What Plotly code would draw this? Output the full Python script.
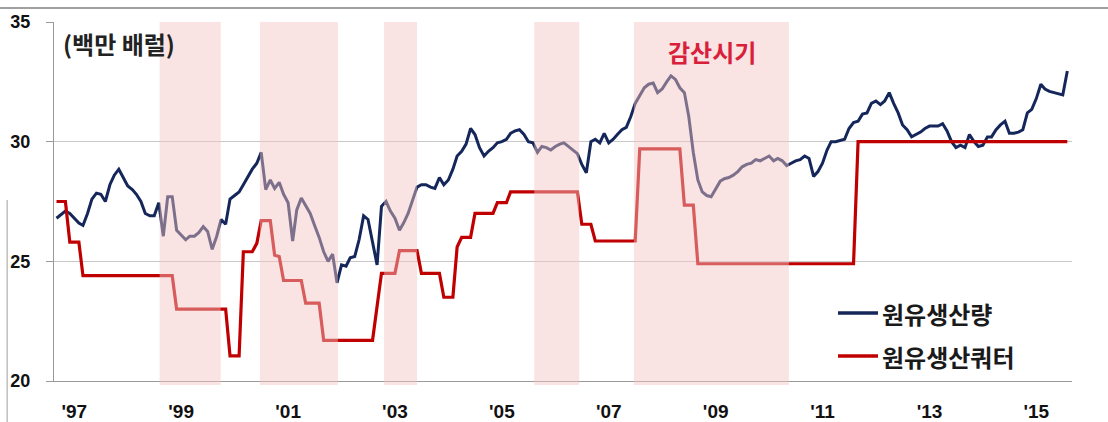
import pandas as pd
import plotly.graph_objects as go

# OPEC crude oil production (million barrels per day), monthly from Sep 1996
production = [
    26.8, 26.95, 27.1, 27.0, 26.8, 26.6, 26.5, 27.0, 27.6, 27.85, 27.8, 27.5,
    28.2, 28.6, 28.85, 28.5, 28.15, 28.0, 27.8, 27.5, 27.0, 26.9, 26.9, 27.45,
    26.05, 27.7, 27.7, 26.3, 26.1, 25.9, 26.05, 26.05, 26.2, 26.45, 26.25, 25.5,
    26.05, 26.75, 26.55, 27.6, 27.75, 27.9, 28.2, 28.55, 28.85, 29.1, 29.55, 28.0,
    28.4, 28.05, 28.3, 27.8, 27.45, 25.85, 27.15, 27.65, 27.35, 27.0, 26.5, 26.0,
    25.4, 25.0, 25.3, 24.1, 24.85, 24.8, 25.15, 25.2, 25.9, 26.9, 26.75, 25.8,
    24.85, 27.3, 27.5, 27.1, 26.8, 26.3, 26.6, 27.0, 27.5, 28.1, 28.2, 28.2,
    28.1, 28.05, 28.5, 28.2, 28.4, 28.85, 29.4, 29.6, 29.9, 30.55, 30.3, 29.75,
    29.4, 29.6, 29.75, 29.95, 30.0, 30.1, 30.35, 30.45, 30.5, 30.3, 30.0, 29.95,
    29.55, 29.8, 29.75, 29.65, 29.8, 29.9, 29.95, 29.8, 29.65, 29.5, 29.05, 28.7,
    30.0, 30.1, 29.95, 30.35, 29.95, 30.1, 30.3, 30.5, 30.6, 31.05, 31.6, 31.9,
    32.25, 32.4, 32.45, 32.05, 32.2, 32.5, 32.75, 32.6, 32.25, 32.05, 31.05, 29.55,
    28.4, 27.9, 27.75, 27.7, 28.0, 28.35, 28.45, 28.5, 28.6, 28.75, 28.95, 29.05,
    29.1, 29.25, 29.2, 29.3, 29.4, 29.2, 29.3, 29.2, 29.0, 29.1, 29.2, 29.25,
    29.4, 29.3, 28.55, 28.75, 29.1, 29.65, 30.0, 30.0, 30.05, 30.1, 30.55, 30.8,
    30.85, 31.15, 31.2, 31.6, 31.7, 31.55, 31.7, 32.05, 31.6, 31.2, 30.7, 30.5,
    30.2, 30.3, 30.4, 30.55, 30.65, 30.65, 30.65, 30.75, 30.45, 30.0, 29.75, 29.85,
    29.75, 30.3, 30.0, 29.8, 29.85, 30.2, 30.2, 30.5, 30.7, 30.85, 30.35, 30.35,
    30.4, 30.5, 31.2, 31.35, 31.8, 32.4, 32.2, 32.1, 32.05, 32.0, 31.95, 32.95,
]
production_months = pd.date_range("1996-09-01", periods=len(production), freq="MS")

# OPEC production ceiling: months where the quota changes
quota_months = [
    "1996-09", "1996-11", "1996-12", "1997-02", "1997-03", "1998-11", "1998-12",
    "1999-11", "1999-12", "2000-02", "2000-03", "2000-05", "2000-06", "2000-07",
    "2000-09", "2000-10", "2000-11", "2000-12", "2001-04", "2001-05", "2001-08",
    "2001-09", "2002-08", "2002-09", "2002-10", "2003-01", "2003-02", "2003-06",
    "2003-07", "2003-11", "2003-12", "2004-02", "2004-03", "2004-04", "2004-06",
    "2004-07", "2004-11", "2004-12", "2005-02", "2005-03", "2006-06", "2006-07",
    "2006-09", "2006-10", "2007-07", "2007-08", "2008-05", "2008-06", "2008-08",
    "2008-09", "2011-08", "2011-09", "2015-08",
]
quota_values = [
    27.5, 27.5, 25.8, 25.8, 24.4, 24.4, 23.0,
    23.0, 21.05, 21.05, 25.4, 25.4, 25.75, 26.7,
    26.7, 25.25, 25.2, 24.2, 24.2, 23.25, 23.25,
    21.7, 21.7, 23.1, 24.5, 24.5, 25.45, 25.45,
    24.5, 24.5, 23.5, 23.5, 25.6, 26.0, 26.0,
    27.0, 27.0, 27.45, 27.45, 27.9, 27.9, 26.55,
    26.55, 25.85, 25.85, 29.7, 29.7, 27.35, 27.35,
    24.9, 24.9, 30.0, 30.0,
]
quota_dates = pd.to_datetime(quota_months)

# Production-cut periods (shaded)
cut_starts = ["1998-08-07", "2000-06-22", "2002-10-19", "2005-08-10", "2007-06-22"]
cut_ends = ["1999-09-28", "2001-12-07", "2003-06-01", "2006-06-13", "2010-05-16"]

# Axis labels
tick_years = [1997, 1999, 2001, 2003, 2005, 2007, 2009, 2011, 2013, 2015]
tick_labels = ["'97", "'99", "'01", "'03", "'05", "'07", "'09", "'11", "'13", "'15"]
y_ticks = [20, 25, 30, 35]

series_names = ["원유생산량", "원유생산쿼터"]
unit_label = "(백만 배럴)"
band_label = "감산시기"

NAVY = "#15275a"
RED = "#c00000"
KR_FONT = "Noto Sans CJK KR"
NUM_FONT = "Liberation Sans, Arial"

W, H = 1108, 422
ML, MR, MT, MB = 54, 36, 22, 41
PW, PH = W - ML - MR, H - MT - MB


def px_x(x):
    """pixel column -> paper x"""
    return (x - ML) / PW


def px_y(y):
    """pixel row -> paper y"""
    return (H - MB - y) / PH


fig = go.Figure()
fig.add_trace(go.Scatter(
    x=production_months, y=production, mode="lines", name=series_names[0],
    line=dict(color=NAVY, width=3), showlegend=False, hoverinfo="skip",
))
fig.add_trace(go.Scatter(
    x=quota_dates, y=quota_values, mode="lines", name=series_names[1],
    line=dict(color=RED, width=3.2), showlegend=False, hoverinfo="skip",
))

for s, e in zip(cut_starts, cut_ends):
    fig.add_shape(type="rect", xref="x", yref="paper", x0=s, x1=e, y0=px_y(385), y1=1.0,
                  fillcolor="rgba(242,195,195,0.47)", line_width=0, layer="above")

# legend drawn by hand at lower right
for i, (name, col) in enumerate(zip(series_names, [NAVY, RED])):
    yy = px_y(313 + 43 * i)
    fig.add_shape(type="line", xref="paper", yref="paper", x0=px_x(838), x1=px_x(878),
                  y0=yy, y1=yy, line=dict(color=col, width=3.5))
    fig.add_annotation(xref="paper", yref="paper", x=px_x(880), y=yy, text=name,
                       showarrow=False, xanchor="left", yanchor="middle",
                       font=dict(family=KR_FONT, size=24, color="#1a1a1a", weight="bold"))

fig.add_annotation(xref="paper", yref="paper", x=px_x(61), y=px_y(43), text=unit_label,
                   showarrow=False, xanchor="left", yanchor="middle",
                   font=dict(family=KR_FONT, size=24, color="#222222", weight="bold"))
fig.add_annotation(xref="paper", yref="paper", x=px_x(712), y=px_y(51), text=band_label,
                   showarrow=False, xanchor="center", yanchor="middle",
                   font=dict(family=KR_FONT, size=24, color="#d9203a", weight="bold"))

# frame lines around the picture
fig.add_shape(type="rect", xref="paper", yref="paper", x0=px_x(0), x1=px_x(W),
              y0=px_y(9), y1=px_y(7), fillcolor="#a0a0a0", line_width=0, layer="below")
fig.add_shape(type="rect", xref="paper", yref="paper", x0=px_x(6.5), x1=px_x(7.8),
              y0=px_y(H), y1=px_y(200), fillcolor="#b4b4b4", line_width=0, layer="below")

fig.update_layout(
    width=W, height=H,
    margin=dict(l=ML, r=MR, t=MT, b=MB, autoexpand=False),
    paper_bgcolor="white", plot_bgcolor="white",
    showlegend=False,
)
fig.update_xaxes(
    type="date", range=["1996-08-15", "2015-09-02"], automargin=False,
    tickvals=[pd.Timestamp(year=y, month=1, day=1) for y in tick_years],
    ticktext=tick_labels, ticks="", showgrid=False, zeroline=False,
    showline=True, linecolor="#9a9a9a", linewidth=1.2,
    tickfont=dict(family=NUM_FONT, size=19, color="#111111", weight="bold"),
    ticklabelstandoff=13,
)
fig.update_yaxes(
    range=[20, 35], tickvals=y_ticks, ticks="outside", ticklen=7, tickcolor="#9a9a9a",
    automargin=False,
    showgrid=True, gridcolor="#c8c8c8", gridwidth=1, zeroline=False,
    showline=True, linecolor="#9a9a9a", linewidth=1.2,
    tickfont=dict(family=NUM_FONT, size=18, color="#111111", weight="bold"),
    ticklabelstandoff=12,
)

fig.write_html("out.html")
